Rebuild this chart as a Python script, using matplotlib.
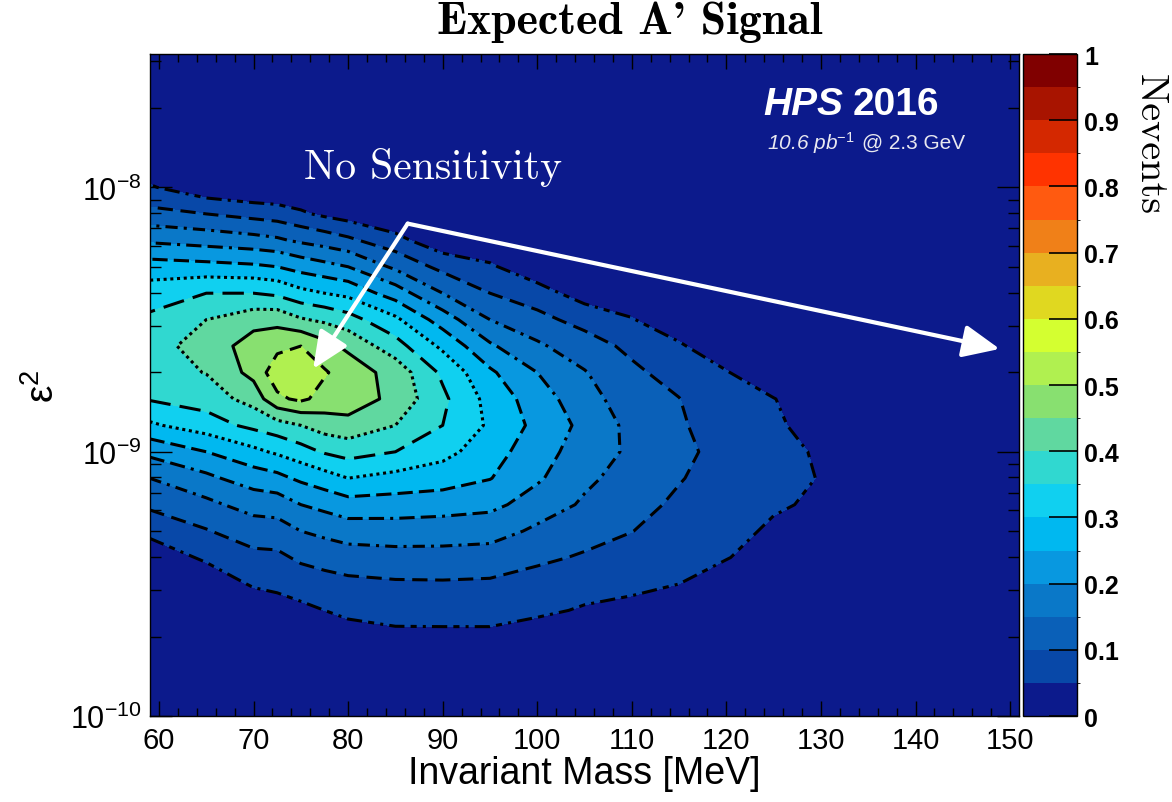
import numpy as np
import matplotlib
matplotlib.use('Agg')
import matplotlib.pyplot as plt
from matplotlib import font_manager
from matplotlib.colors import ListedColormap, BoundaryNorm
from matplotlib.ticker import (MultipleLocator, FixedLocator, LogLocator, NullFormatter,
                               LogFormatterSciNotation)

plt.rcParams['font.family'] = 'Liberation Sans'
plt.rcParams['mathtext.fontset'] = 'custom'
plt.rcParams['mathtext.rm'] = 'Liberation Sans'
plt.rcParams['mathtext.it'] = 'Liberation Sans:italic'
plt.rcParams['mathtext.bf'] = 'Liberation Sans:bold'

# narrow face for the x axis if it is around
installed = {f.name for f in font_manager.fontManager.ttflist}
if 'Liberation Sans Narrow' in installed:
    xfont, xtick_size, xlabel_size = 'Liberation Sans Narrow', 24, 29
else:
    xfont, xtick_size, xlabel_size = 'Liberation Sans', 21, 27

# A' mass grid [MeV] and log10(eps^2) grid
mass = [59, 65, 70, 72.5, 75, 77.5, 80, 85, 90, 95, 100, 105, 110, 115, 120, 125, 130, 135, 151]
log_eps2 = [-10.0, -9.8, -9.7, -9.6, -9.5, -9.4, -9.3, -9.2, -9.1, -9.0, -8.9, -8.8,
            -8.7, -8.6, -8.5, -8.4, -8.3, -8.2, -8.1, -8.0, -7.9, -7.8, -7.5]

# expected signal events, one list per mass point (ordered like log_eps2)
nevents = [
    [0, 0, 0, 0, 0, 0, 0.071, 0.108, 0.150, 0.214, 0.292, 0.354, 0.375, 0.383, 0.359, 0.325, 0.271, 0.192, 0.114, 0.056, 0, 0, 0],
    [0, 0, 0, 0, 0, 0.063, 0.097, 0.138, 0.189, 0.250, 0.327, 0.373, 0.402, 0.418, 0.400, 0.350, 0.265, 0.179, 0.100, 0.013, 0, 0, 0],
    [0, 0, 0, 0, 0.059, 0.088, 0.125, 0.170, 0.225, 0.288, 0.363, 0.420, 0.466, 0.475, 0.429, 0.350, 0.258, 0.167, 0.083, 0, 0, 0, 0],
    [0, 0, 0, 0.020, 0.067, 0.090, 0.128, 0.175, 0.236, 0.308, 0.381, 0.490, 0.530, 0.486, 0.433, 0.340, 0.250, 0.158, 0.075, 0, 0, 0, 0],
    [0, 0, 0, 0.038, 0.076, 0.108, 0.150, 0.200, 0.260, 0.331, 0.400, 0.510, 0.540, 0.500, 0.405, 0.314, 0.230, 0.141, 0.058, 0, 0, 0, 0],
    [0, 0, 0, 0.050, 0.083, 0.118, 0.163, 0.215, 0.280, 0.355, 0.425, 0.482, 0.505, 0.467, 0.390, 0.300, 0.215, 0.127, 0.040, 0, 0, 0, 0],
    [0, 0, 0.030, 0.061, 0.089, 0.127, 0.175, 0.231, 0.300, 0.371, 0.433, 0.480, 0.478, 0.439, 0.370, 0.286, 0.200, 0.110, 0.025, 0, 0, 0, 0],
    [0, 0, 0.040, 0.067, 0.094, 0.133, 0.177, 0.228, 0.285, 0.350, 0.400, 0.435, 0.430, 0.370, 0.310, 0.225, 0.140, 0.067, 0, 0, 0, 0, 0],
    [0, 0, 0.040, 0.068, 0.095, 0.133, 0.175, 0.222, 0.275, 0.316, 0.350, 0.360, 0.340, 0.289, 0.225, 0.150, 0.085, 0.013, 0, 0, 0, 0, 0],
    [0, 0, 0.040, 0.068, 0.093, 0.129, 0.171, 0.213, 0.252, 0.272, 0.292, 0.283, 0.258, 0.207, 0.150, 0.100, 0.058, 0, 0, 0, 0, 0, 0],
    [0, 0, 0.025, 0.060, 0.083, 0.109, 0.141, 0.178, 0.207, 0.221, 0.236, 0.224, 0.200, 0.158, 0.114, 0.073, 0.010, 0, 0, 0, 0, 0, 0],
    [0, 0, 0, 0.045, 0.071, 0.095, 0.119, 0.143, 0.161, 0.177, 0.187, 0.170, 0.153, 0.121, 0.083, 0.025, 0, 0, 0, 0, 0, 0, 0],
    [0, 0, 0, 0.040, 0.059, 0.080, 0.101, 0.115, 0.128, 0.141, 0.136, 0.123, 0.109, 0.089, 0.054, 0, 0, 0, 0, 0, 0, 0, 0],
    [0, 0, 0, 0, 0.050, 0.061, 0.077, 0.092, 0.103, 0.110, 0.106, 0.101, 0.082, 0.059, 0, 0, 0, 0, 0, 0, 0, 0, 0],
    [0, 0, 0, 0, 0, 0.055, 0.060, 0.068, 0.079, 0.086, 0.075, 0.064, 0.054, 0, 0, 0, 0, 0, 0, 0, 0, 0, 0],
    [0, 0, 0, 0, 0, 0, 0.045, 0.054, 0.065, 0.063, 0.056, 0.052, 0, 0, 0, 0, 0, 0, 0, 0, 0, 0, 0],
    [0, 0, 0, 0, 0, 0, 0.030, 0.045, 0.048, 0.045, 0.035, 0.010, 0, 0, 0, 0, 0, 0, 0, 0, 0, 0, 0],
    [0] * 23,
    [0] * 23,
]

eps2_ticks = [1e-10, 1e-9, 1e-8]

# palette, one colour per 0.05 step of Nevents
palette = ['#0c1a8c', '#0848a8', '#0a60b8', '#0a78c8', '#0898e0', '#00b8f0', '#10d0f0',
           '#30d8d0', '#60d8a0', '#88e070', '#b0f050', '#d4ff30', '#e0d820', '#e8b020',
           '#f08018', '#ff5a10', '#ff3300', '#d42800', '#a81400', '#800000']
contour_levels = [0.05, 0.10, 0.15, 0.20, 0.25, 0.30, 0.35, 0.40, 0.45, 0.50]
contour_styles = [(0, (5, 2, 2, 2, 1, 2)), (0, (5, 2.5)), (0, (4, 2, 1, 2)),
                  (0, (5, 2, 5, 2, 1, 2)), (0, (5, 2)), (0, (1, 1.2)), (0, (7, 3)),
                  (0, (1, 1.2)), '-', (0, (4, 2.5))]

M, E = np.meshgrid(mass, 10.0 ** np.array(log_eps2))
Z = np.array(nevents).T

bounds = np.linspace(0, 1, 21)
cmap = ListedColormap(palette)
norm = BoundaryNorm(bounds, cmap.N)

fig = plt.figure(figsize=(11.72, 8.03), dpi=100)
ax = fig.add_axes([0.128, 0.107, 0.7415, 0.8245])
cax = fig.add_axes([0.873, 0.107, 0.046, 0.8245])

ax.set_facecolor(palette[0])
cf = ax.contourf(M, E, Z, levels=bounds, cmap=cmap, norm=norm)
cs = ax.contour(M, E, Z, levels=contour_levels, colors='black', linewidths=2.2)
cs.set_linestyles(contour_styles)

ax.set_yscale('log')
ax.set_xlim(59.05, 150.95)
ax.set_ylim(1e-10, 10 ** -7.495)

ax.xaxis.set_major_locator(MultipleLocator(10))
ax.xaxis.set_minor_locator(MultipleLocator(2))
ax.yaxis.set_major_locator(FixedLocator(eps2_ticks))
ax.yaxis.set_minor_locator(LogLocator(base=10, subs=np.arange(2, 10)))
ax.yaxis.set_major_formatter(LogFormatterSciNotation())
ax.yaxis.set_minor_formatter(NullFormatter())

ax.tick_params(which='both', direction='in', top=True, right=True, color='black', width=1)
ax.tick_params(axis='x', which='major', length=11, labelsize=xtick_size, pad=7,
               labelfontfamily=xfont)
ax.tick_params(axis='x', which='minor', length=6)
ax.tick_params(axis='y', which='major', length=16, labelsize=22, pad=6)
ax.tick_params(axis='y', which='minor', length=8)
for sp in ax.spines.values():
    sp.set_color('black')
    sp.set_linewidth(1)

ax.set_xlabel('Invariant Mass [MeV]', fontsize=xlabel_size, fontfamily=xfont, labelpad=1)
ax.set_ylabel('ε$^{2}$', fontsize=28, labelpad=6)

fig.text(0.5375, 0.972, "Expected A' Signal", fontsize=33, family=['cmb10', 'DejaVu Serif'],
         ha='center', va='center')

ax.text(89.0, 1.2e-8, 'No Sensitivity', fontsize=30, fontfamily='cmr10', color='white',
        ha='center', va='center')
ax.text(0.7975, 0.9245, 'HPS', transform=ax.transAxes, fontsize=28, fontweight='bold',
        fontstyle='italic', color='white', ha='right', va='center')
ax.text(0.808, 0.9245, '2016', transform=ax.transAxes, fontsize=28, fontweight='bold',
        color='white', ha='left', va='center')
ax.text(0.811, 0.867, r'10.6 pb$^{-1}$', transform=ax.transAxes, fontsize=15,
        fontstyle='italic', color='#e8e8f0', ha='right', va='center')
ax.text(0.8195, 0.867, '@ 2.3 GeV', transform=ax.transAxes, fontsize=15,
        color='#e8e8f0', ha='left', va='center')

arrow = dict(arrowstyle='-|>,head_length=0.9,head_width=0.4', color='white', lw=3,
             mutation_scale=25, shrinkA=0, shrinkB=0)
ax.annotate('', xy=(76.3, 2.06e-9), xytext=(86.3, 7.3e-9), arrowprops=arrow)
ax.annotate('', xy=(148.9, 2.45e-9), xytext=(86.3, 7.3e-9), arrowprops=arrow)

cb = fig.colorbar(cf, cax=cax)
ticks = np.round(np.arange(0, 1.01, 0.1), 1)
cax.set_yticks(ticks, labels=['%g' % t for t in ticks], fontweight='bold', fontsize=18)
cax.tick_params(direction='in', length=20, width=1.2, color='black', pad=5)
cb.outline.set_linewidth(1)
fig.text(0.981, 0.82, 'Nevents', rotation=-90, fontsize=29, fontfamily='cmr10',
         ha='center', va='center')

fig.savefig('out.png', dpi=100)
